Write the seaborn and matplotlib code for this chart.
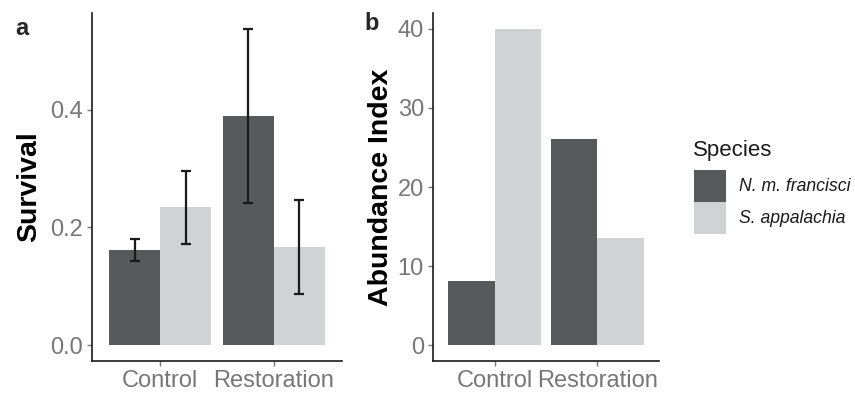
import matplotlib
matplotlib.use("Agg")
import matplotlib.pyplot as plt
import pandas as pd
import seaborn as sns

# values
treatments = ["Control", "Restoration"]
species = ["N. m. francisci", "S. appalachia"]

survival = [0.161, 0.234, 0.389, 0.166]
survival_lo = [0.143, 0.172, 0.242, 0.086]
survival_hi = [0.181, 0.295, 0.537, 0.247]

abundance = [8.1, 40.0, 26.1, 13.5]

colors = ["#58595b", "#d1d2d4"]
tick_grey = "#777777"

df = pd.DataFrame({
    "Treatment": [t for t in treatments for _ in species],
    "Species": species * len(treatments),
    "Survival": survival,
    "Abundance": abundance,
    "lo": survival_lo,
    "hi": survival_hi,
})

sns.set_style("ticks")
plt.rcParams["font.family"] = ["Liberation Sans", "DejaVu Sans"]

fig = plt.figure(figsize=(8.55, 3.95), dpi=100)
ax_a = fig.add_axes([92 / 855, 34 / 395, 250 / 855, 348 / 395])
ax_b = fig.add_axes([433 / 855, 34 / 395, 226 / 855, 348 / 395])

sns.barplot(data=df, x="Treatment", y="Survival", hue="Species",
            order=treatments, hue_order=species, palette=colors,
            width=0.9, errorbar=None, saturation=1, ax=ax_a)
sns.barplot(data=df, x="Treatment", y="Abundance", hue="Species",
            order=treatments, hue_order=species, palette=colors,
            width=0.9, errorbar=None, saturation=1, ax=ax_b)

# error bars on panel a, placed on the bar centres
for cont, sp in zip(ax_a.containers, species):
    sub = df[df["Species"] == sp].set_index("Treatment").loc[treatments]
    xs = [p.get_x() + p.get_width() / 2 for p in cont.patches]
    ax_a.errorbar(xs, sub["Survival"],
                  yerr=[sub["Survival"] - sub["lo"], sub["hi"] - sub["Survival"]],
                  fmt="none", ecolor="#1a1a1a", elinewidth=1.6,
                  capsize=3.6, capthick=1.6, zorder=3)

handles, labels = ax_a.get_legend_handles_labels()
for ax in (ax_a, ax_b):
    if ax.get_legend() is not None:
        ax.get_legend().remove()
    for p in ax.patches:
        p.set_edgecolor("none")
        p.set_linewidth(0)

ax_a.set_ylim(-0.027, 0.564)
ax_a.set_yticks([0.0, 0.2, 0.4])
ax_a.set_yticklabels(["0.0", "0.2", "0.4"])
ax_b.set_ylim(-2, 42)
ax_b.set_yticks([0, 10, 20, 30, 40])

for ax, ylab, pad in ((ax_a, "Survival", 6), (ax_b, "Abundance Index", 2.5)):
    ax.set_xlim(-0.6, 1.6)
    ax.set_xlabel("")
    ax.set_ylabel(ylab, fontsize=20.5, fontweight="bold", color="black", labelpad=pad)
    sns.despine(ax=ax)
    ax.spines["left"].set_linewidth(1.2)
    ax.spines["bottom"].set_linewidth(1.2)
    ax.spines["left"].set_color("#1a1a1a")
    ax.spines["bottom"].set_color("#1a1a1a")
    ax.tick_params(axis="both", labelsize=17, labelcolor=tick_grey,
                   color=tick_grey, length=3.6, width=1, pad=3)

fig.text(15 / 855, 1 - 17 / 395, "a", fontsize=17, fontweight="bold", va="top")
fig.text(364 / 855, 1 - 12 / 395, "b", fontsize=17, fontweight="bold", va="top")

fig.text(693 / 855, 1 - 156 / 395, "Species", fontsize=16, color="#1a1a1a",
         va="baseline")
leg = fig.legend(handles, labels, loc="upper left",
                 bbox_to_anchor=(694 / 855, 1 - 170 / 395), frameon=False,
                 fontsize=12.7, handlelength=1.8, handleheight=2.4,
                 labelspacing=0, handletextpad=0.75,
                 borderpad=0, borderaxespad=0)
for t in leg.get_texts():
    t.set_fontstyle("italic")
    t.set_color("#1a1a1a")

fig.savefig("out.png", dpi=100)
